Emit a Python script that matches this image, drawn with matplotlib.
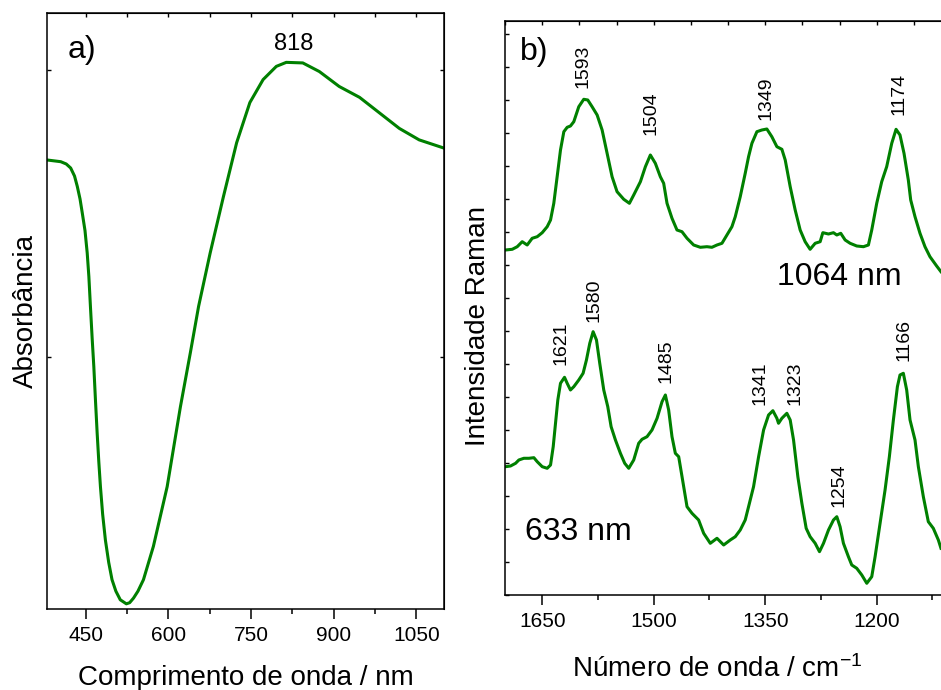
import matplotlib.pyplot as plt
from matplotlib.ticker import MultipleLocator, NullFormatter

plt.rcParams['font.family'] = ['Liberation Sans', 'DejaVu Sans']
plt.rcParams['mathtext.fontset'] = 'custom'
plt.rcParams['mathtext.rm'] = 'Liberation Sans'
plt.rcParams['mathtext.it'] = 'Liberation Sans:italic'

GREEN = '#008000'

# a) UV-Vis-NIR absorbance (arbitrary units)
wavelength = [380, 405, 415, 423, 430, 435, 440, 444, 449, 453, 456, 459, 462, 465,
              468, 471, 474, 477, 481, 486, 492, 498, 505, 513, 524, 530, 537, 545,
              555, 573, 598, 622, 640, 655, 676, 700, 724, 748, 772, 796, 814, 844,
              874, 910, 947, 983, 1019, 1055, 1099]
absorbance = [0.843, 0.840, 0.836, 0.829, 0.815, 0.797, 0.775, 0.751, 0.720, 0.681,
              0.640, 0.585, 0.532, 0.483, 0.424, 0.368, 0.318, 0.274, 0.226, 0.181,
              0.142, 0.112, 0.092, 0.077, 0.070, 0.072, 0.080, 0.092, 0.112, 0.170,
              0.274, 0.413, 0.507, 0.588, 0.681, 0.779, 0.873, 0.943, 0.983, 1.006,
              1.013, 1.012, 0.997, 0.971, 0.952, 0.925, 0.898, 0.878, 0.864]

# b) Raman spectra (wavenumber in cm-1, intensity offset, arbitrary units)
wn_1064 = [1699.3, 1690.3, 1683.6, 1676.9, 1670.2, 1663.5, 1656.7, 1650.0, 1643.3,
           1638.8, 1634.4, 1629.9, 1625.4, 1620.9, 1616.4, 1612.0, 1607.5, 1600.8,
           1594.1, 1588.7, 1582.9, 1576.1, 1569.4, 1562.7, 1556.0, 1549.3, 1540.3,
           1532.7, 1526.9, 1517.9, 1511.2, 1504.5, 1497.8, 1491.1, 1486.6, 1482.1,
           1475.4, 1468.7, 1462.0, 1455.2, 1446.3, 1437.3, 1428.4, 1421.7, 1414.9,
           1408.2, 1401.5, 1394.8, 1390.3, 1383.6, 1376.9, 1372.4, 1367.9, 1361.2,
           1354.5, 1347.8, 1341.1, 1334.3, 1327.6, 1323.1, 1316.4, 1309.7, 1303.0,
           1296.3, 1289.6, 1282.8, 1276.1, 1272.5, 1264.9, 1258.2, 1253.7, 1248.4,
           1242.5, 1235.8, 1226.9, 1217.9, 1211.2, 1206.7, 1200.0, 1193.3, 1186.6,
           1179.8, 1174.0, 1168.7, 1163.3, 1157.5, 1154.3, 1148.5, 1141.8, 1135.1,
           1128.4, 1119.4, 1113.6]
int_1064 = [3.450, 3.457, 3.483, 3.533, 3.500, 3.567, 3.583, 3.623, 3.683, 3.750,
            3.917, 4.183, 4.450, 4.633, 4.677, 4.690, 4.733, 4.883, 4.957, 4.950,
            4.883, 4.800, 4.650, 4.417, 4.183, 4.033, 3.957, 3.917, 4.000, 4.133,
            4.283, 4.400, 4.317, 4.183, 4.117, 3.917, 3.767, 3.650, 3.633, 3.567,
            3.500, 3.477, 3.483, 3.477, 3.500, 3.517, 3.600, 3.683, 3.783, 3.983,
            4.217, 4.383, 4.517, 4.633, 4.650, 4.660, 4.583, 4.483, 4.457, 4.350,
            4.083, 3.850, 3.650, 3.533, 3.457, 3.517, 3.533, 3.623, 3.610, 3.623,
            3.600, 3.617, 3.550, 3.517, 3.490, 3.483, 3.500, 3.650, 3.917, 4.133,
            4.283, 4.517, 4.657, 4.600, 4.417, 4.150, 3.950, 3.783, 3.617, 3.483,
            3.383, 3.290, 3.233]

wn_633 = [1699.3, 1692.6, 1685.8, 1681.4, 1674.7, 1667.9, 1661.2, 1656.7, 1650.0,
          1643.3, 1638.8, 1635.2, 1632.1, 1629.0, 1625.4, 1620.0, 1616.4, 1612.0,
          1607.5, 1600.8, 1595.0, 1590.5, 1586.0, 1581.5, 1577.0, 1572.6, 1567.2,
          1561.8, 1557.3, 1551.5, 1544.8, 1539.0, 1533.6, 1526.9, 1520.2, 1515.7,
          1509.0, 1502.3, 1495.5, 1488.8, 1484.3, 1479.9, 1475.4, 1470.9, 1466.4,
          1461.9, 1455.2, 1448.5, 1439.6, 1432.8, 1423.9, 1414.9, 1405.9, 1397.0,
          1390.3, 1383.6, 1376.9, 1372.4, 1365.7, 1358.9, 1352.2, 1345.5, 1339.7,
          1334.3, 1332.1, 1327.6, 1320.9, 1316.4, 1311.9, 1306.1, 1300.7, 1294.9,
          1289.6, 1282.8, 1277.0, 1271.6, 1264.9, 1258.2, 1253.7, 1249.3, 1244.8,
          1238.1, 1233.6, 1226.9, 1220.1, 1213.4, 1206.7, 1202.2, 1195.5, 1188.8,
          1183.0, 1177.6, 1172.2, 1168.7, 1164.2, 1159.7, 1155.2, 1148.5, 1144.0,
          1137.3, 1130.6, 1123.9, 1117.1, 1113.6]
int_633 = [1.283, 1.290, 1.317, 1.350, 1.367, 1.367, 1.373, 1.333, 1.283, 1.267,
           1.300, 1.483, 1.717, 1.950, 2.117, 2.177, 2.117, 2.050, 2.083, 2.150,
           2.217, 2.350, 2.517, 2.633, 2.550, 2.317, 2.050, 1.883, 1.683, 1.550,
           1.417, 1.317, 1.267, 1.350, 1.517, 1.557, 1.583, 1.650, 1.767, 1.933,
           2.000, 1.850, 1.583, 1.417, 1.383, 1.183, 0.883, 0.817, 0.750, 0.617,
           0.517, 0.567, 0.500, 0.550, 0.583, 0.650, 0.750, 0.883, 1.083, 1.383,
           1.650, 1.800, 1.843, 1.767, 1.717, 1.767, 1.817, 1.750, 1.550, 1.183,
           0.917, 0.667, 0.583, 0.517, 0.433, 0.517, 0.650, 0.750, 0.783, 0.683,
           0.517, 0.383, 0.300, 0.267, 0.200, 0.117, 0.183, 0.383, 0.717, 1.050,
           1.383, 1.750, 2.083, 2.200, 2.217, 2.050, 1.750, 1.550, 1.283, 0.983,
           0.733, 0.667, 0.550, 0.467]

# peak labels: text, x position, y of text bottom
peaks_1064 = [('1593', 1595.0, 5.07), ('1504', 1503.0, 4.60),
              ('1349', 1348.7, 4.75), ('1174', 1169.5, 4.80)]
peaks_633 = [('1621', 1624.1, 2.30), ('1580', 1579.7, 2.733), ('1485', 1483.0, 2.117),
             ('1341', 1356.7, 1.90), ('1323', 1309.7, 1.90), ('1254', 1251.0, 0.883),
             ('1166', 1163.3, 2.343)]

fig = plt.figure(figsize=(9.41, 6.9), dpi=100)
ax1 = fig.add_axes([0.0499, 0.1174, 0.4219, 0.8638])
ax2 = fig.add_axes([0.5367, 0.1377, 0.474, 0.8323])

for ax in (ax1, ax2):
    for s in ax.spines.values():
        s.set_linewidth(1.1)
    ax.tick_params(axis='x', which='major', direction='out', length=7, width=1.1,
                   labelsize=15, pad=5)
    ax.tick_params(axis='x', which='minor', direction='out', length=3.5, width=1.1)
    ax.tick_params(axis='y', which='both', direction='in', length=3, width=1,
                   labelleft=False)

# ----- a) -----
ax1.plot(wavelength, absorbance, color=GREEN, lw=2.2)
ax1.set_xlim(380, 1100)
ax1.set_ylim(0.061, 1.099)
ax1.xaxis.set_major_locator(MultipleLocator(150))
ax1.xaxis.set_minor_locator(MultipleLocator(75))
ax1.yaxis.set_major_locator(MultipleLocator(0.5))
ax1.yaxis.set_major_formatter(NullFormatter())
top1 = ax1.secondary_xaxis('top')
top1.xaxis.set_major_locator(MultipleLocator(75))
top1.tick_params(direction='in', length=3, width=1, labeltop=False)
right1 = ax1.secondary_yaxis('right')
right1.yaxis.set_major_locator(MultipleLocator(0.5))
right1.tick_params(direction='in', length=3, width=1, labelright=False)
ax1.set_xlabel('Comprimento de onda / nm', fontsize=20, labelpad=15)
ax1.set_ylabel('Absorbância', fontsize=20, labelpad=6)
ax1.text(0.053, 0.938, 'a)', transform=ax1.transAxes, fontsize=23, va='center')
ax1.text(828, 1.025, '818', fontsize=17, ha='center', va='bottom')

# ----- b) -----
ax2.plot(wn_1064, int_1064, color=GREEN, lw=2.2)
ax2.plot(wn_633, int_633, color=GREEN, lw=2.2)
ax2.set_xlim(1700, 1100)
ax2.set_ylim(0, 5.743)
ax2.xaxis.set_major_locator(MultipleLocator(150))
ax2.xaxis.set_minor_locator(MultipleLocator(75))
ax2.yaxis.set_major_locator(MultipleLocator(0.33))
ax2.yaxis.set_major_formatter(NullFormatter())
top2 = ax2.secondary_xaxis('top')
top2.xaxis.set_major_locator(MultipleLocator(50))
top2.tick_params(direction='in', length=3, width=1, labeltop=False)
ax2.set_xlabel('Número de onda / cm$^{-1}$', fontsize=20)
ax2.xaxis.set_label_coords(0.475, -0.105)
ax2.set_ylabel('Intensidade Raman', fontsize=20)
ax2.yaxis.set_label_coords(-0.032, 0.468)
ax2.text(0.034, 0.945, 'b)', transform=ax2.transAxes, fontsize=23, va='center')
for label, x, y in peaks_1064 + peaks_633:
    ax2.text(x, y, label, rotation=90, fontsize=14, ha='center', va='bottom')
ax2.text(0.61, 0.554, '1064 nm', transform=ax2.transAxes, fontsize=23, va='center')
ax2.text(0.045, 0.109, '633 nm', transform=ax2.transAxes, fontsize=23, va='center')

plt.savefig('out.png', dpi=100)
